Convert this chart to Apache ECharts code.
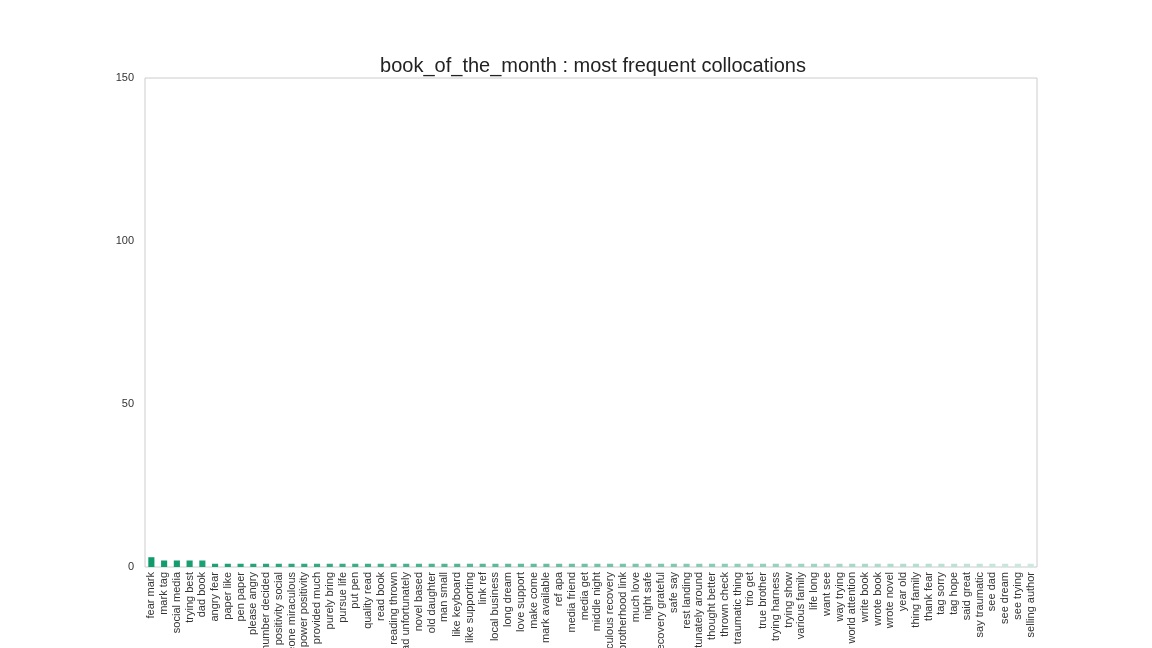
<!DOCTYPE html>
<html>
<head>
<meta charset="utf-8">
<script src="https://cdn.jsdelivr.net/npm/echarts@6/dist/echarts.min.js"></script>
<style>html,body{margin:0;padding:0;background:#fff;}#chart{width:1152px;height:648px;}</style>
</head>
<body>
<div id="chart"></div>
<script>
var categories = ["fear mark","mark tag","social media","trying best","dad book","angry fear","paper like","pen paper","please angry","number decided","positivity social","someone miraculous","power positivity","provided much","purely bring","pursue life","put pen","quality read","read book","reading thrown","read unfortunately","novel based","old daughter","man small","like keyboard","like supporting","link ref","local business","long dream","love support","make come","mark available","ref apa","media friend","media get","middle night","miraculous recovery","brotherhood link","much love","night safe","recovery grateful","safe say","rest landing","fortunately around","thought better","thrown check","traumatic thing","trio get","true brother","trying harness","trying show","various family","life long","want see","way trying","world attention","write book","wrote book","wrote novel","year old","thing family","thank fear","tag sorry","tag hope","said great","say traumatic","see dad","see dream","see trying","selling author"];
var counts = [3,2,2,2,2,1,1,1,1,1,1,1,1,1,1,1,1,1,1,1,1,1,1,1,1,1,1,1,1,1,1,1,1,1,1,1,1,1,1,1,1,1,1,1,1,1,1,1,1,1,1,1,1,1,1,1,1,1,1,1,1,1,1,1,1,1,1,1,1,1];
var yTicks = [0, 50, 100, 150];
var titleText = "book_of_the_month : most frequent collocations";

var c0 = [16,155,108], c1 = [205,233,222];
function col(i, n) {
  var t = n > 1 ? i / (n - 1) : 0;
  var r = Math.round(c0[0] + (c1[0]-c0[0])*t);
  var g = Math.round(c0[1] + (c1[1]-c0[1])*t);
  var b = Math.round(c0[2] + (c1[2]-c0[2])*t);
  return 'rgb(' + r + ',' + g + ',' + b + ')';
}
var data = counts.map(function(v, i){ return {value: v, itemStyle: {color: col(i, counts.length)}}; });

var chart = echarts.init(document.getElementById('chart'));
chart.setOption({
  animation: false,
  backgroundColor: '#fff',
  textStyle: {fontFamily: 'Liberation Sans, Arial, sans-serif'},
  title: {text: titleText, left: 588, textAlign: 'center', top: 51,
    textStyle: {fontSize: 20, fontWeight: 'normal', color: '#222', fontFamily: 'Liberation Sans, Arial, sans-serif'}},
  grid: {left: 145, right: 115, top: 78, bottom: 81, show: true, borderColor: '#cccccc', borderWidth: 1, containLabel: false, outerBoundsMode: 'none'},
  xAxis: {type: 'category', data: categories,
    axisLine: {show: false}, axisTick: {show: false}, splitLine: {show: false},
    axisLabel: {rotate: 90, interval: 0, fontSize: 11, color: '#333', margin: 5}},
  yAxis: {type: 'value', min: yTicks[0], max: yTicks[yTicks.length-1], interval: 50,
    axisLine: {show: false}, axisTick: {show: false}, splitLine: {show: false},
    axisLabel: {fontSize: 11, color: '#333', margin: 11}},
  series: [{type: 'bar', data: data, barWidth: '48%'}]
});
</script>
</body>
</html>
